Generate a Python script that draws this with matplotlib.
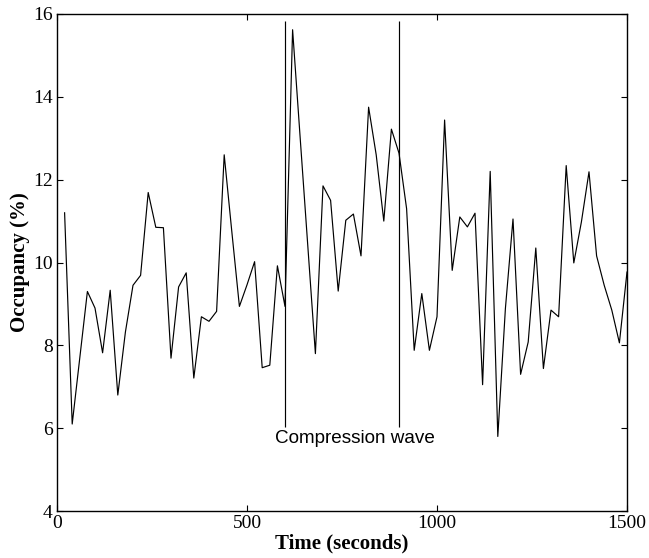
import numpy as np
import matplotlib
matplotlib.use("Agg")
import matplotlib.pyplot as plt

# occupancy samples, one every 20 seconds
time_s = list(range(20, 1501, 20))
occupancy = [11.2, 6.1, 7.7, 9.3, 8.9, 7.82, 9.33, 6.8, 8.32, 9.45,
             9.69, 11.69, 10.85, 10.84, 7.69, 9.41, 9.75, 7.21, 8.69, 8.58,
             8.82, 12.6, 10.75, 8.94, 9.46, 10.02, 7.46, 7.52, 9.92, 8.94,
             15.62, 13.0, 10.4, 7.8, 11.85, 11.5, 9.31, 11.02, 11.17, 10.16,
             13.75, 12.6, 11.0, 13.22, 12.64, 11.3, 7.88, 9.25, 7.88, 8.69,
             13.44, 9.81, 11.1, 10.86, 11.19, 7.05, 12.2, 5.8, 8.89, 11.05,
             7.3, 8.08, 10.35, 7.44, 8.85, 8.69, 12.34, 9.99, 10.98, 12.19,
             10.16, 9.45, 8.85, 8.06, 9.77]

# compression wave markers
wave_times = [600, 900]
wave_low, wave_high = 6.03, 15.82
wave_label = "Compression wave"

x_ticks = [0, 500, 1000, 1500]
y_ticks = [4, 6, 8, 10, 12, 14, 16]

fig = plt.figure(figsize=(6.49, 5.58), dpi=100)
ax = fig.add_axes([57/649, 1-511/558, 570/649, 497/558])

ax.plot(time_s, occupancy, color="black", linewidth=0.85)
ax.vlines(wave_times, wave_low, wave_high, color="black", linewidth=0.85)
ax.text(784, 5.76, wave_label, ha="center", va="center",
        fontsize=13.6, family="Liberation Sans")

ax.set_xlim(0, 1500)
ax.set_ylim(4, 16)
ax.set_xticks(x_ticks)
ax.set_yticks(y_ticks)
ax.tick_params(direction="in", top=True, right=True, length=4, width=0.8,
               labelsize=14, pad=3)
for lab in ax.get_xticklabels() + ax.get_yticklabels():
    lab.set_family("Liberation Serif")
for sp in ax.spines.values():
    sp.set_linewidth(1.0)

ax.set_xlabel("Time (seconds)", fontsize=15, fontweight="bold",
              family="Liberation Serif", labelpad=1)
ax.set_ylabel("Occupancy (%)", fontsize=15, fontweight="bold",
              family="Liberation Serif", labelpad=2)

fig.savefig("out.png", dpi=100)
